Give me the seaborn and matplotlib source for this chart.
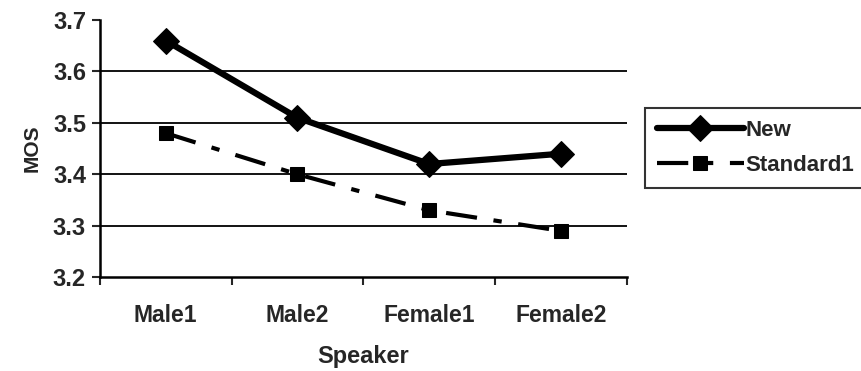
import matplotlib
matplotlib.use("Agg")
import matplotlib.pyplot as plt
import seaborn as sns
import pandas as pd
import numpy as np

speakers = ["Male1", "Male2", "Female1", "Female2"]
new_vals = [3.66, 3.51, 3.42, 3.44]
std_vals = [3.48, 3.40, 3.33, 3.29]
yticks = [3.2, 3.3, 3.4, 3.5, 3.6, 3.7]

sns.set_style("white")
plt.rcParams['font.family'] = ['Liberation Sans', 'DejaVu Sans']
plt.rcParams['font.weight'] = 'bold'

df = pd.DataFrame({
    "Speaker": speakers * 2,
    "MOS": new_vals + std_vals,
    "Series": ["New"] * 4 + ["Standard1"] * 4,
})
df["x"] = list(range(4)) * 2

fig = plt.figure(figsize=(8.61, 3.71), dpi=100)
ax = fig.add_axes([0.116, 0.253, 0.612, 0.693])

for yv in yticks[1:-1]:
    ax.axhline(yv, color="black", lw=1.3, zorder=1)

sns.lineplot(data=df[df.Series == "New"], x="x", y="MOS", ax=ax, color="black",
             lw=4.5, marker="D", markersize=13, markeredgecolor="black",
             label="New", zorder=3)
sns.lineplot(data=df[df.Series == "Standard1"], x="x", y="MOS", ax=ax, color="black",
             lw=3, marker="s", markersize=10, markeredgecolor="black",
             label="Standard1", zorder=3)
ax.lines[-1].set_dashes([7.5, 4, 2, 4])

ax.set_xlim(-0.5, 3.5)
ax.set_ylim(3.2, 3.7)
ax.set_yticks(yticks)
ax.set_yticklabels([f"{v:.1f}" for v in yticks], fontsize=17, fontweight="bold")
ax.set_xticks(range(4))
ax.set_xticklabels(speakers, fontsize=16.5, fontweight="bold")
ax.set_xticks(np.arange(-0.5, 4, 1), minor=True)
ax.tick_params(axis="x", which="major", length=0, pad=19)
ax.tick_params(axis="x", which="minor", length=6, width=1.5, direction="out", bottom=True)
ax.tick_params(axis="y", length=6, width=1.5, direction="out", left=True, pad=4)
ax.set_xlabel("Speaker", fontsize=17, fontweight="bold", labelpad=13)
ax.set_ylabel("MOS", fontsize=15, fontweight="bold", labelpad=8)

for s in ["top", "right"]:
    ax.spines[s].set_visible(False)
for s in ["left", "bottom"]:
    ax.spines[s].set_linewidth(1.8)
    ax.spines[s].set_color("black")

leg = ax.legend(loc="upper left", bbox_to_anchor=(1.034, 0.658), frameon=True,
                fancybox=False, edgecolor="black", fontsize=16, handlelength=3.9,
                handletextpad=0.1, borderpad=0.55, labelspacing=0.6, borderaxespad=0)
leg.get_frame().set_linewidth(1.5)
for t in leg.get_texts():
    t.set_fontweight("bold")

fig.savefig("out.png", dpi=100)
